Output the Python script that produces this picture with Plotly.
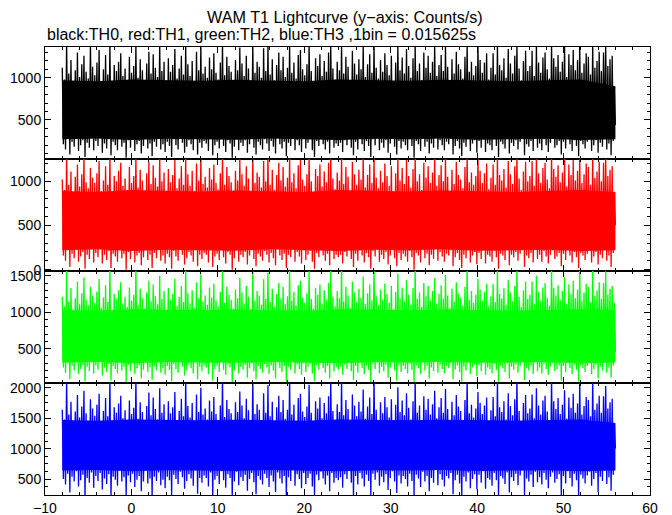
import numpy as np
import plotly.graph_objects as go
from plotly.subplots import make_subplots

# ---------------- data ----------------
t_start, t_end = -8.0, 56.0  # 4096 bins of 0.015625 s

# local maxima / minima of each light curve, alternating in time (0.125 s apart)
black_hi = [
    1120, 980, 1400, 1050, 1210, 940, 1090, 1300, 1010, 1160, 1260, 1070, 990, 1400, 1130, 1030,
    1180, 1330, 960, 1100, 1270, 1040, 1400, 920, 1150, 1080, 1190, 1290, 1020, 1110, 970, 1250,
    1060, 1140, 1400, 1000, 1220, 1090, 950, 1170, 1310, 1050, 1280, 1120, 1010, 1400, 1080, 1190,
    930, 1230, 1070, 1150, 1340, 990, 1110, 1260, 1040, 1400, 1160, 1020, 1200, 960, 1310, 1090,
    1400, 1050, 1130, 1000, 1240, 1100, 1290, 1060, 980, 1180, 1400, 1030, 1250, 1140, 1070, 950,
    1210, 1090, 1360, 1170, 1020, 1260, 1110, 940, 1400, 1060, 1190, 1130, 1000, 1350, 1080, 1400,
    1040, 1220, 970, 1150, 1300, 1090, 1250, 1010, 1120, 1400, 1060, 1180, 990, 1270, 1330, 1100,
    1030, 1160, 1400, 1080, 950, 1230, 1140, 1280, 1020, 1200, 1070, 1300, 1400, 1110, 980, 1190,
    1090, 1400, 1050, 1250, 1130, 960, 1320, 1170, 1040, 1220, 1100, 1400, 1010, 1160, 1280, 1060,
    1400, 1120, 990, 1210, 1070, 1290, 1150, 1030, 1260, 940, 1180, 1400, 1090, 1240, 1050, 1340,
    1140, 1000, 1230, 1400, 1080, 1170, 970, 1300, 1120, 1260, 1060, 1190, 1400, 1020, 1150, 1270,
    1080, 1400, 1130, 960, 1220, 1050, 1310, 1160, 1100, 990, 1250, 1400, 1070, 1190, 1030, 1140,
    1400, 1210, 1060, 1180, 1290, 980, 1120, 1290, 1040, 1400, 1150, 1090, 1230, 1000, 1340, 1170,
    1050, 1260, 1400, 1110, 970, 1200, 1320, 1080, 1140, 1320, 1020, 1400, 1180, 1060, 1240, 1300,
    1100, 990, 1400, 1230, 1130, 1270, 1070, 1190, 1400, 1010, 1280, 1150, 1330, 1090, 1210, 1400,
    1060, 1170, 1290, 1250, 1040, 1400, 1120, 1200, 1310, 1080, 1300, 1400, 1140, 1220, 1260, 830]
black_lo = [
    210, 150, 280, 90, 240, 180, 320, 130, 200, 260, 60, 230, 170, 290, 140, 250,
    190, 300, 110, 220, 160, 270, 80, 240, 200, 140, 310, 180, 230, 50, 260, 170,
    280, 130, 210, 250, 100, 190, 330, 160, 220, 70, 240, 180, 290, 150, 210, 120,
    240, 190, 60, 270, 200, 150, 300, 230, 110, 180, 260, 210, 140, 320, 90, 230,
    170, 250, 220, 130, 290, 80, 200, 240, 160, 310, 190, 120, 260, 220, 50, 180,
    300, 140, 230, 190, 260, 110, 210, 280, 170, 90, 240, 200, 150, 270, 220, 130,
    250, 180, 100, 290, 210, 160, 240, 70, 230, 190, 320, 140, 260, 200, 120, 280,
    160, 230, 270, 140, 60, 250, 190, 300, 210, 150, 240, 100, 280, 170, 220, 190,
    230, 120, 260, 200, 310, 170, 80, 240, 150, 280, 210, 130, 250, 190, 60, 270,
    200, 290, 140, 230, 170, 260, 110, 220, 300, 180, 90, 250, 160, 240, 200, 140,
    270, 190, 50, 250, 210, 130, 290, 180, 240, 100, 220, 170, 310, 150, 260, 200,
    140, 240, 210, 280, 90, 190, 250, 160, 70, 230, 180, 290, 130, 220, 260, 110,
    250, 170, 300, 120, 220, 200, 140, 270, 190, 60, 240, 210, 160, 280, 100, 230,
    190, 260, 150, 240, 310, 80, 210, 180, 250, 130, 290, 170, 220, 140, 270, 200,
    120, 230, 280, 170, 200, 250, 90, 240, 160, 300, 210, 130, 260, 190, 70, 250,
    210, 160, 240, 290, 130, 200, 260, 110, 230, 180, 310, 150, 220, 80, 250, 440]

red_hi = [
    1020, 900, 1300, 960, 1110, 870, 1050, 1190, 940, 1080, 1300, 990, 920, 1150, 1040, 980,
    1090, 1230, 890, 1010, 1170, 960, 1300, 860, 1060, 1000, 1120, 1210, 950, 1030, 900, 1160,
    980, 1060, 1300, 930, 1130, 1010, 880, 1090, 1220, 970, 1180, 1040, 940, 1300, 1000, 1100,
    870, 1140, 990, 1070, 1240, 920, 1030, 1170, 960, 1300, 1080, 950, 1120, 890, 1200, 1010,
    1300, 970, 1050, 930, 1150, 1020, 1190, 980, 910, 1090, 1300, 960, 1160, 1060, 990, 880,
    1120, 1010, 1250, 1080, 950, 1170, 1030, 870, 1300, 980, 1100, 1050, 930, 1230, 1000, 1300,
    960, 1130, 900, 1070, 1210, 1010, 1160, 940, 1040, 1300, 990, 1090, 920, 1180, 1240, 1020,
    950, 1080, 1300, 1000, 880, 1140, 1060, 1190, 940, 1110, 990, 1210, 1300, 1030, 910, 1100,
    1010, 1300, 970, 1160, 1050, 890, 1220, 1080, 960, 1130, 1020, 1300, 930, 1070, 1190, 980,
    1300, 1040, 920, 1120, 990, 1200, 1060, 950, 1170, 870, 1090, 1300, 1010, 1150, 970, 1240,
    1060, 930, 1140, 1300, 1000, 1080, 900, 1210, 1040, 1170, 980, 1100, 1300, 950, 1070, 1180,
    1000, 1300, 1050, 890, 1130, 970, 1220, 1070, 1020, 920, 1160, 1300, 990, 1100, 960, 1060,
    1300, 1120, 980, 1090, 1200, 910, 1040, 1190, 960, 1300, 1070, 1010, 1140, 930, 1230, 1080,
    970, 1170, 1300, 1030, 900, 1110, 1220, 1000, 1060, 1230, 950, 1300, 1090, 980, 1150, 1210,
    1020, 920, 1300, 1140, 1050, 1180, 990, 1100, 1300, 940, 1190, 1070, 1240, 1010, 1120, 1300,
    980, 1080, 1200, 1160, 960, 1300, 1040, 1110, 1220, 1000, 1210, 1300, 1060, 1130, 1170, 880]
red_lo = [
    160, 100, 220, 30, 180, 130, 240, 90, 150, 200, 10, 170, 120, 230, 80, 190,
    140, 230, 70, 170, 110, 210, 20, 180, 150, 90, 240, 130, 180, 0, 200, 120,
    220, 80, 160, 190, 50, 140, 250, 110, 170, 20, 190, 130, 230, 100, 160, 70,
    180, 140, 10, 210, 150, 100, 230, 170, 60, 130, 200, 160, 90, 240, 40, 170,
    120, 190, 170, 80, 230, 30, 150, 180, 110, 240, 140, 70, 200, 170, 0, 130,
    230, 90, 170, 140, 200, 60, 160, 220, 120, 40, 180, 150, 100, 210, 170, 80,
    190, 130, 50, 230, 160, 110, 180, 20, 170, 140, 250, 90, 200, 150, 70, 220,
    110, 170, 210, 90, 10, 190, 140, 240, 160, 100, 180, 50, 220, 120, 170, 140,
    170, 70, 200, 150, 240, 120, 30, 180, 100, 220, 160, 80, 190, 140, 10, 210,
    150, 230, 90, 170, 120, 200, 60, 160, 240, 130, 40, 190, 110, 180, 150, 90,
    210, 140, 0, 190, 160, 80, 230, 130, 180, 50, 170, 120, 250, 100, 200, 150,
    90, 180, 160, 220, 40, 140, 190, 110, 20, 170, 130, 230, 80, 160, 200, 60,
    190, 120, 240, 70, 170, 150, 90, 210, 140, 10, 180, 160, 110, 220, 50, 170,
    140, 200, 100, 180, 250, 30, 160, 130, 190, 80, 230, 120, 170, 90, 210, 150,
    70, 170, 220, 120, 150, 190, 40, 180, 110, 240, 160, 80, 200, 140, 20, 190,
    160, 110, 180, 230, 80, 150, 200, 60, 170, 130, 250, 100, 160, 30, 190, 500]

green_hi = [
    1210, 1080, 1620, 1150, 1330, 1040, 1190, 1420, 1110, 1260, 1480, 1170, 1090, 1350, 1230, 1130,
    1280, 1450, 1060, 1200, 1370, 1140, 1620, 1020, 1250, 1180, 1300, 1410, 1120, 1210, 1070, 1340,
    1160, 1240, 1620, 1100, 1320, 1190, 1050, 1270, 1430, 1150, 1380, 1220, 1110, 1500, 1180, 1290,
    1030, 1330, 1170, 1250, 1460, 1090, 1210, 1360, 1140, 1620, 1260, 1120, 1300, 1060, 1410, 1190,
    1520, 1150, 1230, 1100, 1340, 1200, 1390, 1160, 1080, 1280, 1620, 1130, 1350, 1240, 1170, 1050,
    1310, 1190, 1470, 1270, 1120, 1360, 1210, 1040, 1620, 1160, 1290, 1230, 1100, 1450, 1180, 1540,
    1140, 1320, 1070, 1250, 1400, 1190, 1350, 1110, 1220, 1620, 1160, 1280, 1090, 1370, 1430, 1200,
    1130, 1260, 1560, 1180, 1050, 1330, 1240, 1380, 1120, 1300, 1170, 1400, 1620, 1210, 1080, 1290,
    1190, 1620, 1150, 1350, 1230, 1060, 1420, 1270, 1140, 1320, 1200, 1490, 1110, 1260, 1380, 1160,
    1620, 1220, 1090, 1310, 1170, 1390, 1250, 1130, 1360, 1040, 1280, 1530, 1190, 1340, 1150, 1440,
    1240, 1100, 1330, 1620, 1180, 1270, 1070, 1400, 1220, 1360, 1160, 1290, 1470, 1120, 1250, 1370,
    1180, 1510, 1230, 1060, 1320, 1150, 1410, 1260, 1200, 1090, 1350, 1620, 1170, 1290, 1130, 1240,
    1460, 1310, 1160, 1280, 1390, 1080, 1220, 1390, 1140, 1620, 1250, 1190, 1330, 1100, 1440, 1270,
    1150, 1360, 1620, 1210, 1070, 1300, 1420, 1180, 1240, 1420, 1120, 1500, 1280, 1160, 1340, 1400,
    1200, 1090, 1620, 1330, 1230, 1370, 1170, 1290, 1480, 1110, 1380, 1250, 1430, 1190, 1310, 1620,
    1160, 1270, 1390, 1350, 1140, 1620, 1220, 1300, 1410, 1180, 1400, 1560, 1240, 1320, 1360, 1130]
green_lo = [
    240, 170, 300, 80, 260, 200, 330, 150, 220, 280, 50, 250, 190, 310, 160, 270,
    210, 320, 130, 240, 180, 290, 60, 260, 220, 160, 330, 200, 250, 40, 280, 190,
    300, 150, 230, 270, 90, 210, 340, 180, 240, 70, 260, 200, 310, 170, 230, 140,
    260, 210, 50, 290, 220, 170, 320, 250, 130, 200, 280, 230, 160, 330, 80, 250,
    190, 270, 240, 150, 310, 60, 220, 260, 180, 330, 210, 140, 280, 240, 30, 200,
    320, 160, 250, 210, 280, 100, 230, 300, 190, 80, 260, 220, 170, 290, 240, 150,
    270, 200, 90, 310, 230, 180, 260, 40, 250, 210, 340, 160, 280, 220, 140, 300,
    180, 250, 290, 160, 50, 270, 210, 320, 230, 170, 260, 90, 300, 190, 240, 210,
    250, 140, 280, 220, 330, 190, 70, 260, 170, 300, 230, 150, 270, 210, 40, 290,
    220, 310, 160, 250, 190, 280, 100, 240, 320, 200, 60, 270, 180, 260, 220, 160,
    290, 210, 30, 270, 230, 150, 310, 200, 260, 90, 240, 190, 330, 170, 280, 220,
    160, 260, 230, 300, 80, 210, 270, 180, 50, 250, 200, 310, 150, 240, 280, 120,
    270, 190, 320, 140, 240, 220, 160, 290, 210, 40, 260, 230, 180, 300, 90, 250,
    210, 280, 170, 260, 330, 70, 230, 200, 270, 150, 310, 190, 240, 160, 290, 220,
    140, 250, 300, 190, 220, 270, 60, 260, 180, 320, 230, 150, 280, 210, 50, 270,
    230, 180, 260, 310, 150, 220, 280, 90, 250, 200, 330, 170, 240, 100, 270, 450]

blue_hi = [
    1640, 1480, 2150, 1560, 1770, 1420, 1610, 1880, 1510, 1690, 1950, 1580, 1460, 1810, 1660, 1540,
    1720, 1900, 1440, 1620, 1830, 1530, 2150, 1400, 1680, 1590, 1740, 1870, 1500, 1630, 1450, 1790,
    1570, 1670, 2150, 1490, 1760, 1600, 1430, 1700, 1920, 1550, 1840, 1650, 1480, 1990, 1590, 1730,
    1410, 1780, 1580, 1680, 1930, 1470, 1620, 1820, 1530, 2150, 1700, 1510, 1750, 1440, 1890, 1600,
    2000, 1560, 1660, 1480, 1790, 1610, 1850, 1570, 1450, 1710, 2150, 1520, 1800, 1650, 1580, 1420,
    1760, 1600, 1940, 1710, 1500, 1820, 1630, 1410, 2150, 1570, 1730, 1640, 1470, 1910, 1590, 2040,
    1530, 1770, 1440, 1680, 1870, 1600, 1800, 1490, 1640, 2150, 1560, 1720, 1460, 1830, 1900, 1610,
    1520, 1690, 2050, 1590, 1420, 1780, 1660, 1840, 1500, 1750, 1580, 1860, 2150, 1620, 1450, 1730,
    1600, 2150, 1550, 1800, 1650, 1430, 1890, 1710, 1530, 1770, 1610, 1970, 1490, 1690, 1840, 1570,
    2150, 1640, 1460, 1760, 1580, 1850, 1680, 1510, 1810, 1400, 1720, 2010, 1600, 1790, 1550, 1910,
    1670, 1480, 1780, 2150, 1590, 1710, 1440, 1860, 1640, 1820, 1560, 1730, 1950, 1500, 1680, 1830,
    1590, 1980, 1650, 1430, 1770, 1550, 1880, 1690, 1620, 1470, 1800, 2150, 1580, 1720, 1510, 1660,
    1930, 1750, 1570, 1710, 1840, 1450, 1630, 1850, 1530, 2150, 1680, 1600, 1780, 1480, 1910, 1700,
    1550, 1810, 2150, 1620, 1440, 1750, 1880, 1580, 1660, 1890, 1500, 1990, 1710, 1560, 1790, 1870,
    1610, 1470, 2150, 1780, 1650, 1830, 1570, 1720, 1960, 1490, 1840, 1670, 1900, 1590, 1740, 2150,
    1560, 1700, 1850, 1800, 1530, 2150, 1640, 1740, 1870, 1590, 1860, 2030, 1660, 1760, 1820, 1420]
blue_lo = [
    500, 410, 590, 280, 540, 460, 630, 380, 480, 570, 200, 520, 440, 610, 360, 550,
    470, 600, 330, 510, 420, 580, 200, 540, 490, 390, 640, 460, 530, 230, 560, 450,
    590, 370, 490, 550, 300, 460, 650, 430, 510, 200, 540, 470, 610, 400, 490, 350,
    540, 480, 240, 570, 500, 420, 620, 530, 340, 470, 580, 510, 390, 640, 260, 520,
    440, 560, 520, 380, 610, 200, 490, 550, 420, 630, 480, 360, 580, 520, 210, 460,
    620, 400, 530, 470, 570, 310, 500, 600, 450, 250, 550, 490, 410, 590, 520, 370,
    560, 460, 290, 610, 510, 430, 550, 200, 530, 470, 650, 390, 580, 500, 350, 600,
    420, 520, 590, 380, 220, 570, 480, 620, 510, 410, 560, 300, 600, 440, 520, 480,
    530, 360, 580, 500, 640, 440, 200, 550, 410, 600, 510, 380, 570, 470, 230, 590,
    490, 610, 390, 540, 450, 580, 320, 520, 630, 460, 270, 560, 430, 550, 500, 380,
    590, 470, 200, 570, 510, 370, 620, 460, 550, 300, 520, 440, 650, 400, 580, 490,
    380, 550, 510, 600, 250, 480, 570, 430, 200, 540, 460, 610, 350, 500, 580, 330,
    570, 440, 630, 340, 520, 490, 390, 600, 480, 200, 550, 510, 420, 610, 280, 530,
    470, 590, 400, 560, 640, 240, 510, 460, 570, 370, 620, 450, 530, 410, 600, 490,
    350, 540, 610, 440, 500, 580, 220, 550, 430, 630, 520, 380, 590, 480, 200, 570,
    510, 430, 560, 620, 390, 500, 600, 290, 540, 470, 640, 420, 530, 310, 570, 1000]

# densely filled core of each curve (every 4 s from -8 to 56)
black_core_lo = [270, 280, 260, 275, 270, 265, 280, 270, 260, 275, 270, 280, 265, 270, 275, 260, 270]
black_core_hi = [970, 960, 980, 970, 965, 975, 970, 960, 980, 970, 965, 975, 970, 960, 970, 980, 900]
red_core_lo = [220, 230, 210, 225, 220, 215, 230, 220, 210, 225, 220, 230, 215, 220, 225, 210, 220]
red_core_hi = [890, 880, 900, 890, 885, 895, 890, 880, 900, 890, 885, 895, 890, 880, 890, 900, 880]
green_core_lo = [310, 320, 300, 315, 310, 305, 320, 310, 300, 315, 310, 320, 305, 310, 315, 300, 310]
green_core_hi = [1030, 1020, 1040, 1030, 1025, 1035, 1030, 1020, 1040, 1030, 1025, 1035, 1030, 1020, 1030, 1040, 1030]
blue_core_lo = [640, 650, 630, 645, 640, 635, 650, 640, 630, 645, 640, 650, 635, 640, 645, 630, 640]
blue_core_hi = [1470, 1460, 1480, 1470, 1465, 1475, 1470, 1460, 1480, 1470, 1465, 1475, 1470, 1460, 1470, 1480, 1420]

y_ranges = [[36, 1365], [-15, 1252], [28, 1565], [239, 2078]]
y_minor = [100, 100, 100, 125]
x_tick_labels = ["\u221210", "0", "10", "20", "30", "40", "50", "60"]
x_tick_vals = [-10, 0, 10, 20, 30, 40, 50, 60]

panels = [
    ("#000000", black_hi, black_lo, black_core_lo, black_core_hi),
    ("#ff0000", red_hi, red_lo, red_core_lo, red_core_hi),
    ("#00ff00", green_hi, green_lo, green_core_lo, green_core_hi),
    ("#0000ff", blue_hi, blue_lo, blue_core_lo, blue_core_hi),
]

FONT = "Liberation Sans, Arial, Helvetica, sans-serif"

fig = make_subplots(rows=4, cols=1, shared_xaxes=True, vertical_spacing=0)

for i, (col, hi, lo, clo, chi) in enumerate(panels, start=1):
    n = len(hi) + len(lo)
    t = np.linspace(t_start, t_end, n)
    y = np.empty(n)
    y[0::2] = hi
    y[1::2] = lo
    tc = np.linspace(t_start, t_end, len(clo))
    fig.add_trace(go.Scatter(x=tc, y=clo, mode="lines", line=dict(color=col, width=0),
                             showlegend=False, hoverinfo="skip"), row=i, col=1)
    fig.add_trace(go.Scatter(x=tc, y=chi, mode="lines", line=dict(color=col, width=0),
                             fill="tonexty", fillcolor=col, showlegend=False, hoverinfo="skip"),
                  row=i, col=1)
    fig.add_trace(go.Scatter(x=t, y=y, mode="lines",
                             line=dict(color=col, width=1.3, simplify=False),
                             showlegend=False), row=i, col=1)

    fig.update_yaxes(range=y_ranges[i - 1], dtick=500, tick0=0, ticks="inside", ticklen=6,
                     tickwidth=1, tickcolor="black", showline=True, linecolor="black", linewidth=1,
                     mirror="allticks", showgrid=False, zeroline=False, automargin=False,
                     minor=dict(ticks="inside", dtick=y_minor[i - 1], ticklen=3, tickcolor="black",
                                showgrid=False),
                     tickfont=dict(family=FONT, size=14, color="black"),
                     row=i, col=1)
    fig.update_xaxes(range=[-10, 60], tickvals=x_tick_vals, ticktext=x_tick_labels,
                     ticks="inside", ticklen=6, tickwidth=1, tickcolor="black",
                     showline=True, linecolor="black", linewidth=1, mirror="allticks",
                     showgrid=False, zeroline=False, showticklabels=(i == 4), automargin=False,
                     minor=dict(ticks="inside", dtick=2, tick0=0, ticklen=3, tickcolor="black",
                                showgrid=False),
                     tickfont=dict(family=FONT, size=14, color="black"),
                     row=i, col=1)

fig.add_annotation(text="WAM T1 Lightcurve (y\u2212axis: Counts/s)", xref="paper", yref="paper",
                   x=0.496, y=1.068, xanchor="center", yanchor="middle", showarrow=False,
                   font=dict(family=FONT, size=16.2, color="black"))
fig.add_annotation(text="black:TH0, red:TH1, green:TH2, blue:TH3 ,1bin = 0.015625s",
                   xref="paper", yref="paper", x=0.0, y=1.0268, xanchor="left", yanchor="middle",
                   showarrow=False, font=dict(family=FONT, size=16, color="black"))

# the page body adds an 8 px margin, so the figure is sized and placed to compensate
fig.update_layout(width=664, height=507, margin=dict(l=37, r=22, t=39, b=20, pad=0),
                  paper_bgcolor="white", plot_bgcolor="white", showlegend=False)

fig.write_html("out.html")
